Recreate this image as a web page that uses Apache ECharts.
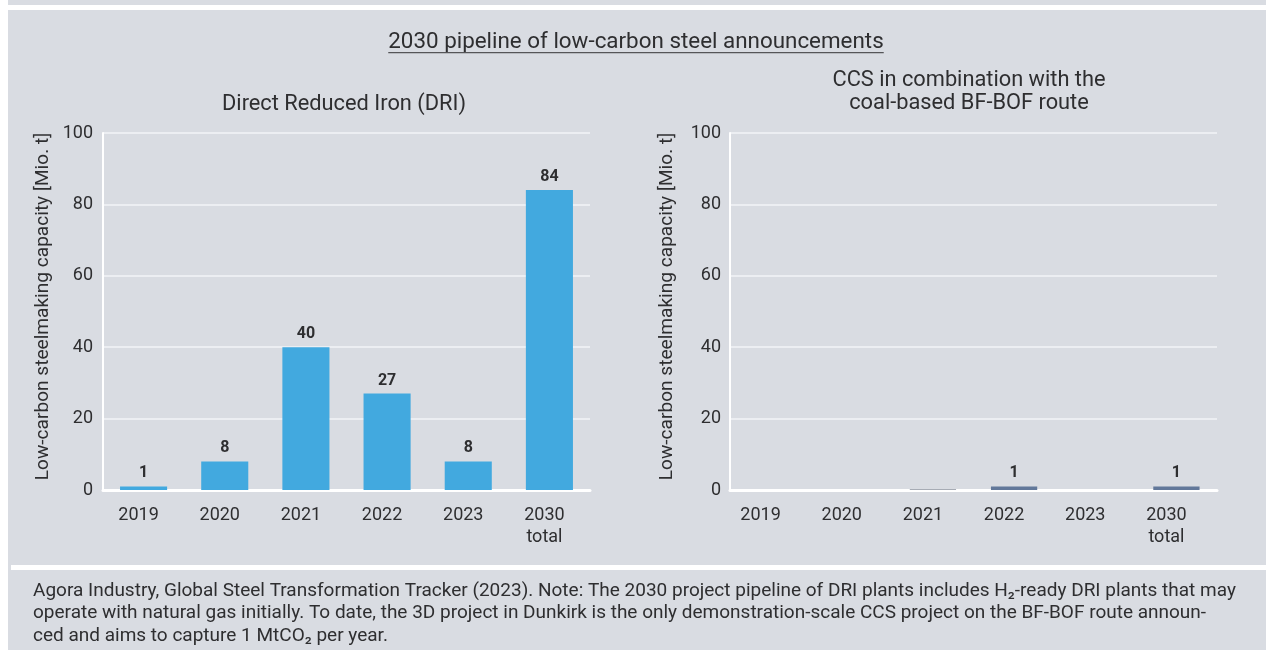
<!DOCTYPE html>
<html>
<head>
<meta charset="utf-8">
<title>2030 pipeline of low-carbon steel announcements</title>
<script src="https://cdn.jsdelivr.net/npm/echarts@6/dist/echarts.min.js"></script>
<style>
  html, body { margin: 0; padding: 0; background: #ffffff; }
  #chart { width: 1266px; height: 650px; }
</style>
</head>
<body>
<div id="chart"></div>
<script>
// Category labels shared by both panels
const categories = ['2019', '2020', '2021', '2022', '2023', '2030\ntotal'];

// Announced capacity in Mio. t
const driValues = [1, 8, 40, 27, 8, 84];
const ccsValues = [0, 0, 0.25, 1, 0, 1];

// Value axis ticks
const yMin = 0;
const yMax = 100;
const yStep = 20;

const mainTitle = '2030 pipeline of low-carbon steel announcements';
const driTitle = 'Direct Reduced Iron (DRI)';
const ccsTitle = ['CCS in combination with the', 'coal-based BF-BOF route'];
const yName = 'Low-carbon steelmaking capacity [Mio. t]';
const sourceNote = [
  'Agora Industry, Global Steel Transformation Tracker (2023). Note: The 2030 project pipeline of DRI plants includes H\u2082-ready DRI plants that may',
  'operate with natural gas initially. To date, the 3D project in Dunkirk is the only demonstration-scale CCS project on the BF-BOF route announ-',
  'ced and aims to capture 1 MtCO\u2082 per year.'
];

const FONT = 'Roboto, "Noto Sans", sans-serif';
const INK = '#2e2e30';
const PANEL = '#d9dce2';

const ctx = document.createElement('canvas').getContext('2d');
function measure(text, size, weight) {
  ctx.font = (weight || 'normal') + ' ' + size + 'px ' + FONT;
  return ctx.measureText(text).width;
}
// font size that makes a line span the given width
function fitSize(text, width) {
  return Math.round(20 * width / measure(text, 20) * 10) / 10;
}

const titleSize = fitSize(mainTitle, 495);
const titleW = measure(mainTitle, titleSize);
const subSize = fitSize(driTitle, 244);
const nameSize = fitSize(yName, 347);
const noteSize = fitSize(sourceNote[0], 1203);

function valueAxis(gridIndex, nameGap, labelMargin) {
  return {
    type: 'value', gridIndex, min: yMin, max: yMax, interval: yStep,
    name: yName, nameLocation: 'middle', nameRotate: 90, nameGap,
    nameTextStyle: { color: INK, fontSize: nameSize, fontFamily: FONT, padding: [0, 0, 0, 10] },
    axisLine: { show: true, lineStyle: { color: '#ffffff', width: 2 } },
    axisTick: { show: false },
    axisLabel: { color: INK, fontSize: 18, fontFamily: FONT, margin: labelMargin },
    splitLine: { lineStyle: { color: '#eceef2', width: 2 } }
  };
}

function categoryAxis(gridIndex, shift) {
  return {
    type: 'category', gridIndex, data: categories,
    axisLine: { show: true, lineStyle: { color: '#ffffff', width: 3 } },
    axisTick: { show: false },
    axisLabel: { color: INK, fontSize: 18, fontFamily: FONT, margin: 14, lineHeight: 22, padding: [0, shift * 2, 0, 0] }
  };
}

function barLabel(minShown) {
  return {
    show: true, position: 'top', distance: 5,
    color: INK, fontSize: 16, fontWeight: 'bold', fontFamily: FONT,
    formatter: p => (p.value >= minShown ? String(p.value) : '')
  };
}

// the tiny 2021 entry of the CCS panel is drawn in a light grey
const ccsData = ccsValues.map((v, i) => (i === 2 ? { value: v, itemStyle: { color: '#a7acb5' } } : v));

const chart = echarts.init(document.getElementById('chart'), null, { renderer: 'canvas' });

chart.setOption({
  animation: false,
  backgroundColor: 'transparent',
  textStyle: { fontFamily: FONT },
  graphic: [
    { type: 'rect', z: -10, silent: true, shape: { x: 8, y: 0, width: 1258, height: 650 }, style: { fill: PANEL } },
    { type: 'rect', z: -9, silent: true, shape: { x: 8, y: 5, width: 1258, height: 5 }, style: { fill: '#ffffff' } },
    { type: 'rect', z: -9, silent: true, shape: { x: 11, y: 565, width: 1255, height: 5 }, style: { fill: '#ffffff' } },
    { type: 'text', silent: true, style: { x: 636, y: 42, text: mainTitle, fill: INK, font: titleSize + 'px ' + FONT, textAlign: 'center', textVerticalAlign: 'middle' } },
    { type: 'rect', silent: true, shape: { x: 636 - titleW / 2, y: 52, width: titleW, height: 1.3 }, style: { fill: '#555558' } },
    { type: 'text', silent: true, style: { x: 344, y: 105, text: driTitle, fill: INK, font: subSize + 'px ' + FONT, textAlign: 'center', textVerticalAlign: 'middle' } },
    { type: 'text', silent: true, style: { x: 969, y: 81, text: ccsTitle[0], fill: INK, font: subSize + 'px ' + FONT, textAlign: 'center', textVerticalAlign: 'middle' } },
    { type: 'text', silent: true, style: { x: 969, y: 104, text: ccsTitle[1], fill: INK, font: subSize + 'px ' + FONT, textAlign: 'center', textVerticalAlign: 'middle' } },
    { type: 'text', silent: true, style: { x: 33, y: 579.75, text: sourceNote.join('\n'), fill: INK, font: noteSize + 'px ' + FONT, lineHeight: 22.5, textAlign: 'left', textVerticalAlign: 'top' } }
  ],
  grid: [
    { left: 103, top: 133, width: 487, height: 357 },
    { left: 730, top: 133, width: 487, height: 357 }
  ],
  xAxis: [categoryAxis(0, 5), categoryAxis(1, 10)],
  yAxis: [
    valueAxis(0, 103 - 43 - nameSize / 2, 10),
    valueAxis(1, 730 - 667 - nameSize / 2, 9)
  ],
  series: [
    {
      type: 'bar', xAxisIndex: 0, yAxisIndex: 0, data: driValues,
      barWidth: '58%', itemStyle: { color: '#42a9df' }, label: barLabel(0)
    },
    {
      type: 'bar', xAxisIndex: 1, yAxisIndex: 1, data: ccsData,
      barWidth: '57%', itemStyle: { color: '#62789a' }, label: barLabel(0.5)
    }
  ]
});
</script>
</body>
</html>
